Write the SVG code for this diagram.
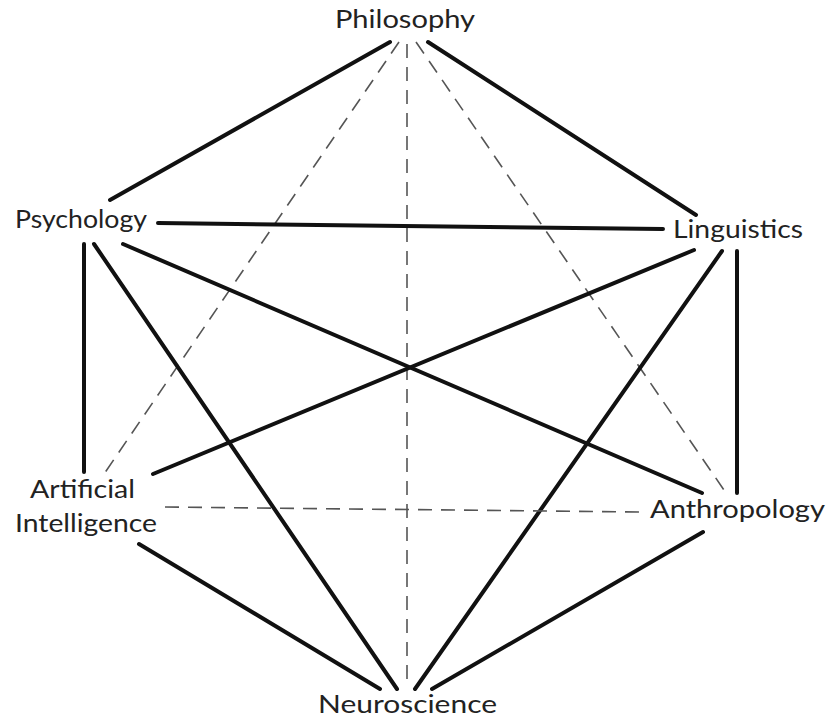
<svg xmlns="http://www.w3.org/2000/svg" width="839" height="721" viewBox="0 0 839 721">
<style>
.solid{stroke:#111;stroke-width:4;stroke-linecap:round;fill:none}
.dash{stroke:#555;stroke-width:1.6;stroke-dasharray:14 9;fill:none}
text{font-family:"Lato","DejaVu Sans",sans-serif;font-size:25px;fill:#222}
</style>
<rect width="839" height="721" fill="#fff"/>
<g id="connectors">
<line class="solid" x1="390" y1="42" x2="110" y2="200"/>
<line class="solid" x1="428" y1="42" x2="696" y2="215"/>
<line class="dash" x1="399" y1="42" x2="104" y2="474"/>
<line class="dash" x1="407" y1="44" x2="407" y2="686"/>
<line class="dash" x1="416" y1="42" x2="724" y2="490"/>
<line class="solid" x1="158" y1="223" x2="663" y2="229"/>
<line class="solid" x1="84" y1="244" x2="84" y2="472"/>
<line class="solid" x1="94" y1="244" x2="397" y2="689"/>
<line class="solid" x1="123" y1="244" x2="702" y2="493"/>
<line class="solid" x1="694" y1="250" x2="153" y2="474"/>
<line class="solid" x1="722" y1="251" x2="415" y2="689"/>
<line class="solid" x1="737" y1="251" x2="737" y2="493"/>
<line class="dash" x1="165" y1="507" x2="640" y2="512"/>
<line class="solid" x1="139" y1="544" x2="380" y2="689"/>
<line class="solid" x1="703" y1="532" x2="432" y2="689"/>
</g>
<g id="philosophy"><text x="335" y="28" textLength="140" lengthAdjust="spacingAndGlyphs">Philosophy</text></g>
<g id="psychology"><text x="15" y="228" textLength="132" lengthAdjust="spacingAndGlyphs">Psychology</text></g>
<g id="linguistics"><text x="673" y="238" textLength="130" lengthAdjust="spacingAndGlyphs">Linguistics</text></g>
<g id="artificial-intelligence"><text x="30" y="498" textLength="105" lengthAdjust="spacingAndGlyphs">Artificial</text><text x="15" y="532" textLength="142" lengthAdjust="spacingAndGlyphs">Intelligence</text></g>
<g id="anthropology"><text x="650" y="518" textLength="175" lengthAdjust="spacingAndGlyphs">Anthropology</text></g>
<g id="neuroscience"><text x="318" y="713" textLength="179" lengthAdjust="spacingAndGlyphs">Neuroscience</text></g>
</svg>
